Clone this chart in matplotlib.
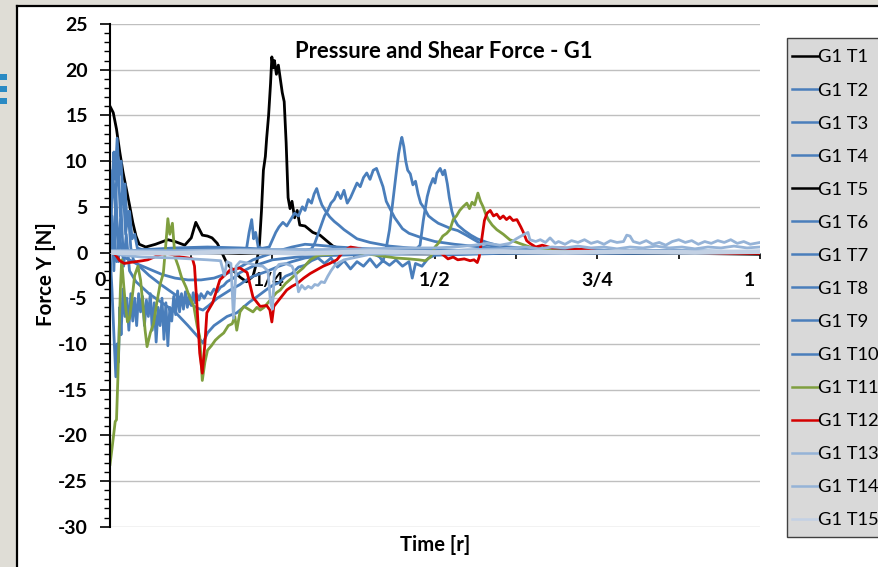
import matplotlib
matplotlib.use("Agg")
import matplotlib.pyplot as plt
from matplotlib.patches import Rectangle
from matplotlib.lines import Line2D
import matplotlib.transforms as mtransforms

# ---------------- data (time fraction, force) ----------------
g1_t1 = [(0.000, 16.0), (0.005, 15.3), (0.010, 13.5), (0.015, 11.0), (0.020, 8.8), (0.025, 7.0),
         (0.030, 5.2), (0.035, 3.3), (0.040, 1.8), (0.045, 0.9), (0.055, 0.6), (0.070, 0.9),
         (0.089, 1.4), (0.100, 1.2), (0.115, 0.8), (0.125, 1.6), (0.132, 3.3), (0.137, 2.6),
         (0.142, 1.9), (0.150, 1.8), (0.157, 1.6), (0.165, 1.0), (0.172, 0.0), (0.180, -1.2),
         (0.190, -2.0), (0.200, -2.7), (0.210, -3.2), (0.220, -2.6), (0.226, -1.0), (0.230, 1.0),
         (0.233, 4.5), (0.236, 9.0), (0.239, 10.5), (0.241, 12.5), (0.244, 15.0), (0.247, 18.5),
         (0.249, 21.4), (0.251, 20.2), (0.253, 21.0), (0.256, 19.5), (0.259, 20.5), (0.262, 19.0),
         (0.265, 17.5), (0.268, 16.5), (0.271, 12.0), (0.274, 6.0), (0.277, 4.8), (0.280, 5.6),
         (0.284, 3.8), (0.288, 4.6), (0.292, 3.0), (0.300, 2.9), (0.312, 2.2), (0.323, 1.9),
         (0.333, 1.3), (0.343, 0.7), (0.354, 0.4), (0.365, 0.1), (0.400, 0.0), (0.500, 0.0),
         (0.700, 0.0), (1.000, 0.0)]

g1_t2 = [(0.000, 0.0), (0.003, 7.0), (0.006, 11.0), (0.008, 8.0), (0.011, 12.5), (0.014, 8.5),
         (0.017, 10.0), (0.020, 6.0), (0.023, 7.5), (0.026, 3.5), (0.030, 4.5), (0.034, 1.5),
         (0.038, 2.0), (0.042, 0.5), (0.050, 0.3), (0.100, 0.3), (0.150, 0.4), (0.200, 0.3),
         (0.210, 0.4), (0.214, 2.2), (0.218, 3.6), (0.221, 1.5), (0.224, 2.2), (0.228, 0.6),
         (0.240, 0.3), (0.300, 0.3), (0.350, 0.2), (0.400, 0.2), (0.450, 0.2), (0.470, 0.3),
         (0.477, 0.8), (0.482, 3.5), (0.488, 6.1), (0.492, 7.2), (0.497, 8.1), (0.500, 7.6),
         (0.503, 8.7), (0.508, 9.2), (0.512, 8.5), (0.515, 9.0), (0.519, 7.5), (0.522, 6.0),
         (0.526, 4.5), (0.530, 3.6), (0.535, 3.0), (0.545, 2.4), (0.555, 1.9), (0.565, 1.5),
         (0.580, 1.1), (0.600, 0.7), (0.630, 0.5), (0.700, 0.3), (0.800, 0.2), (1.000, 0.1)]

g1_t3 = [(0.000, 0.0), (0.003, -4.0), (0.006, -9.0), (0.009, -13.6), (0.011, -10.0), (0.013, -12.0),
         (0.015, -6.0), (0.017, -9.0), (0.020, -4.0), (0.023, -7.0), (0.026, -5.0), (0.029, -8.5),
         (0.032, -4.5), (0.035, -7.5), (0.038, -5.0), (0.041, -8.0), (0.044, -4.5), (0.047, -6.5),
         (0.050, -4.8), (0.053, -8.0), (0.056, -5.2), (0.059, -7.0), (0.062, -4.5), (0.065, -8.5),
         (0.068, -5.5), (0.071, -9.8), (0.074, -6.0), (0.077, -8.0), (0.080, -5.0), (0.083, -9.5),
         (0.086, -5.5), (0.089, -10.2), (0.092, -6.0), (0.095, -7.5), (0.098, -4.8), (0.101, -6.8),
         (0.104, -4.2), (0.107, -6.5), (0.110, -4.5), (0.113, -6.2), (0.116, -4.3), (0.119, -6.0),
         (0.122, -4.6), (0.125, -5.8), (0.128, -4.4), (0.131, -5.5), (0.134, -4.6), (0.137, -5.2),
         (0.140, -4.5), (0.145, -5.0), (0.150, -4.3), (0.155, -4.6), (0.160, -4.0), (0.165, -4.3),
         (0.170, -3.8), (0.175, -3.6), (0.180, -3.2), (0.190, -2.8), (0.200, -2.2), (0.220, -1.5),
         (0.250, -0.8), (0.300, -0.4), (0.400, -0.2), (0.600, -0.1), (1.000, 0.0)]

g1_t4 = [(0.000, 0.0), (0.005, 3.0), (0.010, -1.0), (0.015, 1.5), (0.020, -0.5), (0.030, -0.8),
         (0.040, -1.2), (0.060, -1.8), (0.080, -2.4), (0.100, -2.8), (0.120, -3.0), (0.140, -3.0),
         (0.160, -2.8), (0.180, -2.3), (0.200, -1.6), (0.220, -0.8), (0.240, -0.3), (0.260, 0.2),
         (0.280, 0.6), (0.300, 0.9), (0.320, 0.8), (0.350, 0.6), (0.400, 0.4), (0.500, 0.2),
         (0.600, 0.1), (0.800, 0.1), (1.000, 0.1)]

g1_t5 = [(0.000, 0.0), (0.100, 0.0), (0.200, -0.1), (0.300, 0.0), (0.400, -0.1), (0.500, -0.15),
         (0.600, -0.1), (0.700, -0.1), (0.800, -0.1), (0.900, -0.1), (0.950, -0.15), (1.000, -0.2)]

g1_t6 = [(0.000, 0.0), (0.004, 9.0), (0.008, 5.0), (0.012, 10.5), (0.016, 4.0), (0.020, 7.5),
         (0.024, 2.0), (0.028, 4.5), (0.032, 0.5), (0.036, -0.8), (0.045, -1.5), (0.060, -2.5),
         (0.080, -3.6), (0.100, -4.6), (0.120, -5.5), (0.135, -6.1), (0.143, -6.3), (0.152, -5.8),
         (0.165, -5.0), (0.185, -4.1), (0.200, -3.5), (0.210, -3.0), (0.220, -2.6), (0.240, -2.1),
         (0.260, -1.5), (0.280, -1.0), (0.300, -0.6), (0.330, -0.3), (0.400, -0.1), (0.600, 0.0),
         (1.000, 0.0)]

g1_t7 = [(0.000, 0.0), (0.003, 4.0), (0.006, -2.0), (0.009, 7.0), (0.013, -1.0), (0.017, 5.0),
         (0.021, -1.5), (0.025, 2.0), (0.030, -2.0), (0.040, -3.2), (0.060, -4.5), (0.080, -5.5),
         (0.100, -6.5), (0.120, -8.0), (0.135, -9.2), (0.143, -9.9), (0.150, -8.8), (0.160, -8.0),
         (0.170, -7.5), (0.180, -7.0), (0.195, -6.6), (0.205, -6.0), (0.215, -5.4), (0.225, -4.9),
         (0.240, -4.1), (0.250, -3.6), (0.260, -3.3), (0.270, -2.6), (0.280, -2.3), (0.290, -1.6),
         (0.300, -1.4), (0.310, -0.9), (0.320, -0.6), (0.330, -1.2), (0.340, -0.6), (0.350, -1.6),
         (0.360, -0.9), (0.370, -1.8), (0.380, -1.0), (0.390, -1.5), (0.400, -0.7), (0.410, -1.6),
         (0.420, -0.9), (0.430, -1.4), (0.440, -0.8), (0.450, -1.5), (0.460, -1.0), (0.465, -2.8),
         (0.470, -1.2), (0.480, -1.5), (0.490, -0.6), (0.500, -0.3), (0.600, -0.1), (0.800, -0.1),
         (1.000, 0.0)]

g1_t8 = [(0.000, 0.0), (0.050, 0.3), (0.100, 0.5), (0.150, 0.6), (0.200, 0.5), (0.230, 0.4),
         (0.245, 0.6), (0.250, 1.4), (0.255, 2.2), (0.260, 2.8), (0.266, 3.3), (0.272, 2.9),
         (0.278, 3.6), (0.284, 4.3), (0.290, 4.0), (0.296, 5.0), (0.300, 4.6), (0.305, 5.8),
         (0.310, 5.4), (0.314, 6.4), (0.318, 7.0), (0.322, 6.0), (0.326, 5.2), (0.332, 4.5),
         (0.338, 3.9), (0.345, 3.4), (0.352, 3.0), (0.360, 2.5), (0.370, 2.0), (0.380, 1.5),
         (0.400, 1.1), (0.430, 0.7), (0.460, 0.5), (0.500, 0.3), (0.550, 0.2), (0.600, 0.1),
         (0.800, 0.1), (1.000, 0.1)]

g1_t9 = [(0.000, 0.0), (0.100, 0.2), (0.200, 0.3), (0.300, 0.2), (0.310, 0.4), (0.315, 1.0),
         (0.320, 2.0), (0.325, 3.0), (0.330, 4.0), (0.335, 4.6), (0.340, 5.4), (0.345, 5.8),
         (0.350, 6.6), (0.355, 5.9), (0.360, 6.8), (0.365, 5.4), (0.370, 6.0), (0.375, 6.8),
         (0.380, 7.6), (0.385, 7.2), (0.390, 8.2), (0.395, 8.7), (0.400, 8.0), (0.405, 9.0),
         (0.410, 9.2), (0.415, 8.2), (0.420, 7.2), (0.425, 5.6), (0.430, 4.9), (0.438, 3.8),
         (0.450, 2.6), (0.460, 2.1), (0.480, 1.6), (0.500, 1.2), (0.530, 0.9), (0.570, 0.6),
         (0.600, 0.4), (0.700, 0.2), (1.000, 0.1)]

g1_t10 = [(0.000, 0.0), (0.100, 0.1), (0.200, 0.2), (0.300, 0.2), (0.400, 0.1), (0.415, -0.5),
          (0.420, -1.0), (0.425, 0.5), (0.430, 2.5), (0.435, 5.5), (0.440, 8.5), (0.444, 10.8),
          (0.447, 12.0), (0.449, 12.6), (0.452, 11.6), (0.455, 10.0), (0.458, 9.0), (0.462, 8.6),
          (0.466, 7.4), (0.470, 7.8), (0.474, 6.4), (0.478, 5.4), (0.484, 4.8), (0.490, 4.0),
          (0.497, 3.6), (0.505, 3.2), (0.515, 2.9), (0.525, 2.6), (0.535, 2.4), (0.548, 1.9),
          (0.560, 1.4), (0.570, 1.0), (0.590, 0.7), (0.620, 0.5), (0.700, 0.3), (0.800, 0.2),
          (1.000, 0.1)]

g1_t11 = [(0.000, -23.2), (0.003, -21.5), (0.006, -19.7), (0.008, -18.5), (0.010, -18.3),
          (0.012, -14.0), (0.014, -9.0), (0.016, -4.0), (0.018, -0.8), (0.021, -3.5),
          (0.024, -6.0), (0.027, -7.6), (0.030, -7.2), (0.034, -5.0), (0.038, -2.5),
          (0.043, -1.5), (0.047, -3.0), (0.051, -6.0), (0.054, -8.5), (0.057, -10.3),
          (0.062, -8.8), (0.067, -7.8), (0.072, -5.5), (0.077, -3.5), (0.082, -2.3),
          (0.086, 1.0), (0.089, 3.7), (0.092, 2.0), (0.096, 3.2), (0.100, -0.5),
          (0.105, -1.5), (0.110, -2.7), (0.117, -3.8), (0.123, -5.0), (0.129, -5.9),
          (0.134, -8.0), (0.138, -9.2), (0.142, -14.0), (0.146, -12.0), (0.150, -10.7),
          (0.156, -10.2), (0.162, -9.6), (0.168, -9.2), (0.175, -8.8), (0.182, -8.0),
          (0.188, -7.8), (0.192, -7.0), (0.195, -8.5), (0.200, -6.5), (0.206, -5.9),
          (0.213, -6.2), (0.220, -6.5), (0.226, -6.0), (0.231, -6.3), (0.237, -6.0),
          (0.243, -5.5), (0.250, -4.9), (0.256, -4.4), (0.262, -4.1), (0.270, -3.4),
          (0.278, -2.9), (0.287, -2.3), (0.297, -1.7), (0.308, -0.8), (0.320, -0.3),
          (0.340, -0.2), (0.360, 0.1), (0.380, 0.0), (0.400, -0.2), (0.420, -0.4),
          (0.440, -0.6), (0.460, -0.7), (0.475, -0.8), (0.485, -0.9), (0.493, -0.5),
          (0.500, 0.6), (0.505, 1.0), (0.512, 1.8), (0.518, 2.1), (0.523, 2.5),
          (0.528, 3.6), (0.533, 4.0), (0.538, 4.6), (0.543, 5.0), (0.549, 5.4),
          (0.553, 4.8), (0.557, 5.5), (0.561, 5.2), (0.566, 6.5), (0.570, 5.6),
          (0.574, 5.0), (0.578, 4.2), (0.582, 3.6), (0.588, 3.0), (0.595, 2.5),
          (0.605, 2.0), (0.615, 1.4), (0.630, 1.0), (0.646, 0.6), (0.670, 0.3),
          (0.700, 0.1), (0.800, 0.0), (0.900, 0.0), (1.000, 0.0)]

g1_t12 = [(0.000, 0.0), (0.008, -0.2), (0.015, -0.9), (0.022, -1.2), (0.030, -1.1), (0.040, -1.0),
          (0.050, -0.9), (0.058, -0.8), (0.068, -0.5), (0.078, -0.2), (0.088, -0.1), (0.100, -0.3),
          (0.110, -0.5), (0.120, -0.6), (0.127, -0.7), (0.130, -1.5), (0.134, -6.0), (0.138, -11.0),
          (0.142, -13.2), (0.146, -10.0), (0.149, -6.6), (0.158, -5.5), (0.169, -3.0), (0.185, -1.9),
          (0.200, -1.7), (0.211, -2.2), (0.220, -4.9), (0.231, -5.9), (0.241, -5.8), (0.246, -6.3),
          (0.249, -7.6), (0.252, -5.9), (0.262, -5.0), (0.272, -4.1), (0.280, -3.7), (0.288, -3.4),
          (0.298, -2.8), (0.308, -2.3), (0.318, -1.9), (0.328, -1.5), (0.338, -1.2), (0.349, -0.8),
          (0.360, 0.2), (0.370, 0.6), (0.385, 0.4), (0.400, 0.1), (0.450, 0.0), (0.508, 0.0),
          (0.515, -0.4), (0.520, -0.7), (0.528, -0.5), (0.535, -0.8), (0.545, -0.7), (0.554, -0.9),
          (0.560, -0.8), (0.565, -1.1), (0.568, -0.5), (0.572, 1.5), (0.576, 3.5), (0.580, 4.3),
          (0.585, 4.6), (0.590, 4.0), (0.595, 4.2), (0.600, 3.7), (0.605, 4.0), (0.610, 3.6),
          (0.615, 3.9), (0.620, 3.5), (0.626, 3.6), (0.632, 2.8), (0.636, 2.2), (0.641, 1.3),
          (0.646, 1.0), (0.655, 0.6), (0.665, 0.8), (0.680, 0.5), (0.697, 0.5), (0.715, 0.4),
          (0.733, 0.3), (0.750, 0.1), (0.800, 0.0), (0.900, 0.0), (0.950, -0.1), (1.000, -0.1)]

g1_t13 = [(0.000, 0.0), (0.020, -0.3), (0.050, -0.5), (0.100, -0.6), (0.150, -0.8), (0.170, -0.9),
          (0.176, -2.5), (0.180, -1.0), (0.186, -1.2), (0.190, -7.2), (0.194, -1.5), (0.200, -1.0),
          (0.215, -1.2), (0.225, -1.4), (0.235, -1.5), (0.243, -2.0), (0.247, -5.5), (0.250, -6.2),
          (0.253, -2.0), (0.260, -1.3), (0.270, -1.2), (0.280, -1.5), (0.286, -2.5), (0.290, -4.3),
          (0.295, -3.6), (0.300, -4.0), (0.305, -3.7), (0.310, -3.9), (0.315, -3.5), (0.320, -3.6),
          (0.325, -3.2), (0.330, -3.3), (0.335, -2.6), (0.340, -2.0), (0.345, -1.5), (0.350, -1.2),
          (0.360, -0.8), (0.380, -0.5), (0.400, -0.2), (0.450, -0.1), (0.500, 0.1), (0.550, 0.3),
          (0.600, 0.4), (0.620, 0.5), (0.640, 0.6), (0.660, 0.4), (0.680, 0.6), (0.700, 0.5),
          (0.720, 0.7), (0.740, 0.5), (0.760, 0.6), (0.780, 0.4), (0.800, 0.6), (0.820, 0.5),
          (0.840, 0.7), (0.860, 0.5), (0.880, 0.6), (0.900, 0.4), (0.920, 0.6), (0.940, 0.5),
          (0.960, 0.7), (0.980, 0.5), (1.000, 0.6)]

g1_t14 = [(0.000, 0.2), (0.100, 0.2), (0.200, 0.3), (0.300, 0.3), (0.400, 0.4), (0.450, 0.5),
          (0.500, 0.5), (0.530, 0.6), (0.560, 0.8), (0.580, 1.0), (0.600, 0.8), (0.615, 1.0),
          (0.625, 1.5), (0.635, 1.9), (0.643, 2.2), (0.646, 1.4), (0.655, 1.2), (0.662, 1.4),
          (0.670, 1.1), (0.677, 1.6), (0.685, 1.0), (0.690, 1.2), (0.700, 0.9), (0.710, 1.3),
          (0.720, 1.1), (0.730, 1.4), (0.740, 1.0), (0.750, 1.2), (0.760, 0.9), (0.770, 1.3),
          (0.780, 1.1), (0.790, 1.2), (0.795, 1.9), (0.800, 1.8), (0.805, 1.2), (0.815, 1.0),
          (0.825, 1.3), (0.835, 0.9), (0.845, 1.1), (0.855, 0.8), (0.865, 1.2), (0.875, 1.4),
          (0.885, 1.1), (0.895, 1.3), (0.905, 0.9), (0.915, 1.2), (0.925, 1.0), (0.935, 1.3),
          (0.945, 1.1), (0.955, 1.4), (0.965, 1.0), (0.975, 1.2), (0.985, 0.9), (1.000, 1.1)]

g1_t15 = [(0.000, 0.0), (0.100, -0.1), (0.200, 0.1), (0.300, -0.1), (0.400, 0.1), (0.500, 0.0),
          (0.600, 0.1), (0.700, 0.0), (0.800, 0.1), (0.900, 0.0), (1.000, 0.1)]

series_names = ["G1 T1", "G1 T2", "G1 T3", "G1 T4", "G1 T5", "G1 T6", "G1 T7", "G1 T8",
                "G1 T9", "G1 T10", "G1 T11", "G1 T12", "G1 T13", "G1 T14", "G1 T15"]
series_data = [g1_t1, g1_t2, g1_t3, g1_t4, g1_t5, g1_t6, g1_t7, g1_t8, g1_t9, g1_t10,
               g1_t11, g1_t12, g1_t13, g1_t14, g1_t15]

x_tick_vals = [0, 0.125, 0.25, 0.375, 0.5, 0.625, 0.75, 0.875, 1.0]
x_tick_labels = ["0", "", "1/4", "", "1/2", "", "3/4", "", "1"]
y_ticks = [25, 20, 15, 10, 5, 0, -5, -10, -15, -20, -25, -30]

# ---------------- styling ----------------
BLACK = "#000000"
BLUE = "#4a7ebb"
GREEN = "#7f9f3f"
RED = "#d40000"
LBLUE = "#95b3d7"
colors = [BLACK, BLUE, BLUE, BLUE, BLACK, BLUE, BLUE, BLUE, BLUE, BLUE,
          GREEN, RED, LBLUE, LBLUE, "#c3d1e4"]
widths = [2.0] * 14 + [3.4]

W, H = 879, 567
plt.rcParams['font.family'] = ['Lato', 'DejaVu Sans']
fig = plt.figure(figsize=(W / 100, H / 100), dpi=100)
fig.patch.set_facecolor("white")

def fx(px):
    return px / W

def fy(py):
    return 1 - py / H

# slide background bits
fig.patches.append(Rectangle((0, 0), fx(16), 1, transform=fig.transFigure,
                             facecolor="#dfddd6", edgecolor="none", zorder=0))
fig.patches.append(Rectangle((0, fy(5)), 1, 5 / H, transform=fig.transFigure,
                             facecolor="#dfddd6", edgecolor="none", zorder=0))
for yy in (74, 86, 98):
    fig.patches.append(Rectangle((0, fy(yy + 6)), fx(7), 6 / H, transform=fig.transFigure,
                                 facecolor="#2a8ac4", edgecolor="none", zorder=1))
fig.lines.append(Line2D([fx(17), fx(17)], [0, fy(5.5)], transform=fig.transFigure,
                        color="black", lw=1.6))
fig.lines.append(Line2D([fx(16.5), 1], [fy(6), fy(6)], transform=fig.transFigure,
                        color="black", lw=1.6))

ax = fig.add_axes([fx(110), fy(526.7), fx(760) - fx(110), fy(24) - fy(526.7)])
ax.set_facecolor("none")
for s in ("top", "right"):
    ax.spines[s].set_visible(False)
ax.spines["bottom"].set_position(("data", 0))
ax.spines["bottom"].set_color("#c3d1e4")
ax.spines["bottom"].set_linewidth(0.5)
ax.spines["left"].set_linewidth(1.5)

lines = []
for name, data, c, lw in zip(series_names, series_data, colors, widths):
    xs = [p[0] for p in data]
    ys = [p[1] for p in data]
    ln, = ax.plot(xs, ys, color=c, lw=lw, label=name, solid_joinstyle="round")
    lines.append(ln)

ax.set_xlim(0, 1)
ax.set_ylim(-30, 25)
ax.set_yticks(y_ticks)
ax.set_yticks(range(-30, 26), minor=True)
ax.set_xticks(x_tick_vals)
ax.tick_params(axis="y", which="major", length=7, width=1.2, direction="out", pad=9,
               labelsize=14)
ax.tick_params(axis="y", which="minor", length=4, width=1.0, direction="out")
ax.tick_params(axis="x", which="major", length=4, width=1.2, direction="out", pad=10,
               labelsize=14)
ax.set_yticklabels([str(v) for v in y_ticks], fontsize=14, fontweight="bold")
ax.set_xticklabels(x_tick_labels, fontsize=14, fontweight="bold")
ax.grid(axis="y", which="major", color="#bfbfbf", lw=1.0, zorder=0)
ax.set_axisbelow(True)

# excel-like inward placement for edge labels
xl = ax.get_xticklabels()
shifts = {0: -10, 2: -4, 8: -11}
for i, dx in shifts.items():
    off = mtransforms.ScaledTranslation(dx / 100, 0, fig.dpi_scale_trans)
    xl[i].set_transform(xl[i].get_transform() + off)

fig.text(fx(444), fy(52), "Pressure and Shear Force - G1", fontsize=15.8, fontweight="bold",
         ha="center", va="center")
fig.text(fx(46), fy(274), "Force Y [N]", fontsize=14.8, fontweight="bold", rotation=90,
         ha="center", va="center")
fig.text(fx(435), fy(545), "Time [r]", fontsize=14.6, fontweight="bold", ha="center", va="center")

# legend box
fig.patches.append(Rectangle((fx(787), fy(537)), fx(900) - fx(787), (537 - 38) / H,
                             transform=fig.transFigure, facecolor="#d9d9d9",
                             edgecolor="#404040", lw=1.0, zorder=2))
leg = fig.legend(handles=lines, labels=series_names, loc="upper left",
                 bbox_to_anchor=(fx(792), fy(49.5)), bbox_transform=fig.transFigure,
                 frameon=False, fontsize=13.2, handlelength=1.42, handletextpad=0.0,
                 labelspacing=0.93, borderpad=0, borderaxespad=0)
leg.set_zorder(3)
for h in leg.legend_handles:
    h.set_linewidth(1.8)

fig.savefig("out.png", dpi=100)
